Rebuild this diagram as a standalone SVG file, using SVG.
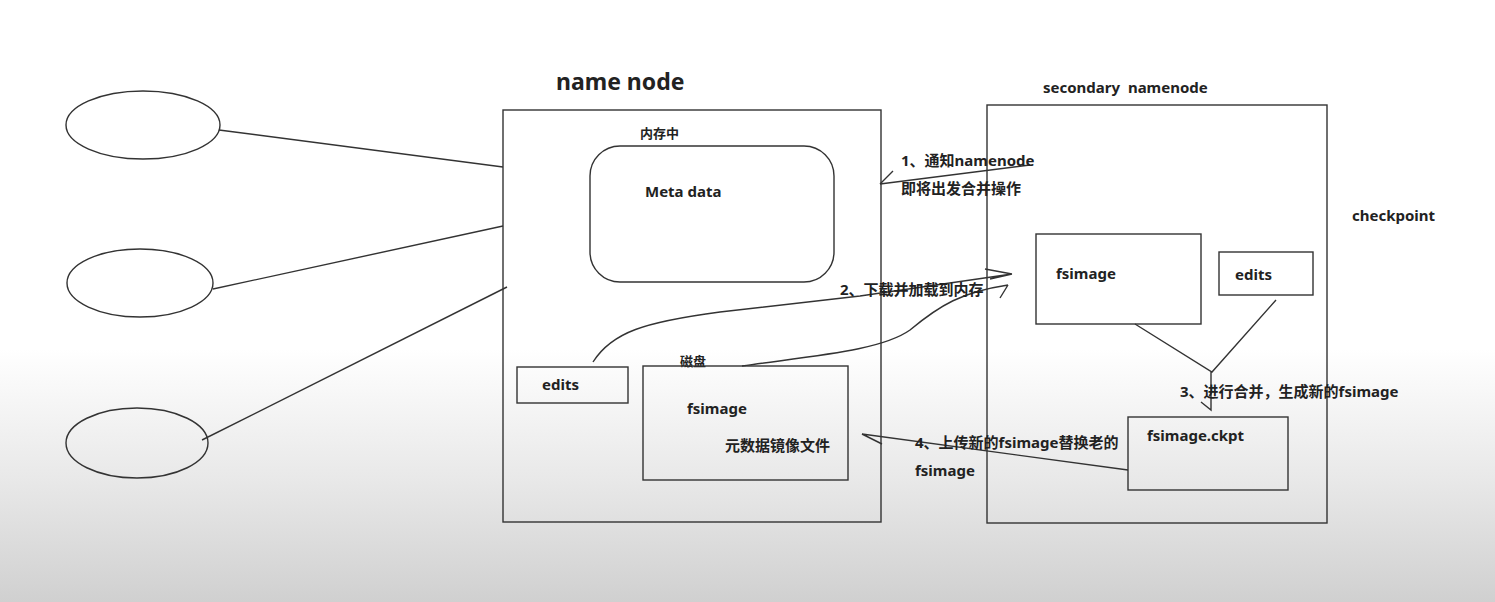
<svg xmlns="http://www.w3.org/2000/svg" width="1495" height="602" viewBox="0 0 1495 602">
<defs>
<linearGradient id="bg" x1="0" y1="0" x2="0" y2="1">
<stop offset="0" stop-color="#ffffff"/>
<stop offset="0.58" stop-color="#ffffff"/>
<stop offset="0.8" stop-color="#e8e8e8"/>
<stop offset="1" stop-color="#d0d0d0"/>
</linearGradient>
<style>
.s{fill:none;stroke:#333;stroke-width:1.4}
.t{font-family:"Noto Sans","Noto Sans CJK SC",sans-serif;font-weight:bold;font-size:15px;fill:#222}
</style>
</defs>
<rect x="0" y="0" width="1495" height="602" fill="url(#bg)"/>
<g id="client1"><ellipse class="s" cx="143" cy="125" rx="77" ry="34"/></g>
<g id="client2"><ellipse class="s" cx="140" cy="283" rx="73" ry="34"/></g>
<g id="client3"><ellipse class="s" cx="137" cy="443" rx="71" ry="35"/></g>
<g id="namenode">
<rect class="s" x="503" y="110" width="378" height="412"/>
<text class="t" x="556" y="90" style="font-size:23px">name node</text>
<text class="t" x="640" y="138" style="font-size:13px">内存中</text>
</g>
<g id="metadata">
<rect class="s" x="590" y="146" width="244" height="136" rx="30"/>
<text class="t" x="645" y="197">Meta data</text>
</g>
<g id="nn-edits">
<rect class="s" x="517" y="367" width="111" height="36"/>
<text class="t" x="542" y="390">edits</text>
</g>
<g id="nn-fsimage">
<text class="t" x="680" y="366" style="font-size:13px">磁盘</text>
<rect class="s" x="643" y="366" width="205" height="114"/>
<text class="t" x="687" y="414">fsimage</text>
<text class="t" x="725" y="451">元数据镜像文件</text>
</g>
<g id="secondary">
<rect class="s" x="987" y="105" width="340" height="418"/>
<text class="t" x="1043" y="93" style="font-size:15px" xml:space="preserve">secondary  namenode</text>
</g>
<g id="checkpoint"><text class="t" x="1352" y="221">checkpoint</text></g>
<g id="sn-fsimage">
<rect class="s" x="1036" y="234" width="165" height="90"/>
<text class="t" x="1056" y="279">fsimage</text>
</g>
<g id="sn-edits">
<rect class="s" x="1219" y="252" width="94" height="43"/>
<text class="t" x="1235" y="280">edits</text>
</g>
<g id="ckpt">
<rect class="s" x="1128" y="417" width="160" height="73"/>
<text class="t" x="1147" y="441">fsimage.ckpt</text>
</g>
<g id="connectors">
<line class="s" x1="219" y1="130" x2="503" y2="167"/>
<line class="s" x1="213" y1="289" x2="503" y2="226"/>
<line class="s" x1="202" y1="440" x2="507" y2="287"/>
<path class="s" d="M1030,165 L880,184 M880,184 L893,171"/>
<path class="s" d="M593,362 C612,332 645,322 720,312 L860,296 L1012,274 M985,269 L1012,274 M990,279 L1012,274"/>
<path class="s" d="M742,366 C820,355 882,350 910,330 C940,305 962,292 1008,285 M1000,298 L1008,285"/>
<path class="s" d="M1135,324 L1212,372 L1276,300 M1211,372 L1211,410 L1201,402"/>
<path class="s" d="M1128,470 L862,434 L882,444"/>
</g>
<g id="labels">
<text class="t" x="901" y="166">1、通知namenode</text>
<text class="t" x="901" y="194">即将出发合并操作</text>
<text class="t" x="840" y="295">2、下载并加载到内存</text>
<text class="t" x="1180" y="397">3、进行合并，生成新的fsimage</text>
<text class="t" x="915" y="448">4、上传新的fsimage替换老的</text>
<text class="t" x="915" y="476">fsimage</text>
</g>
</svg>
